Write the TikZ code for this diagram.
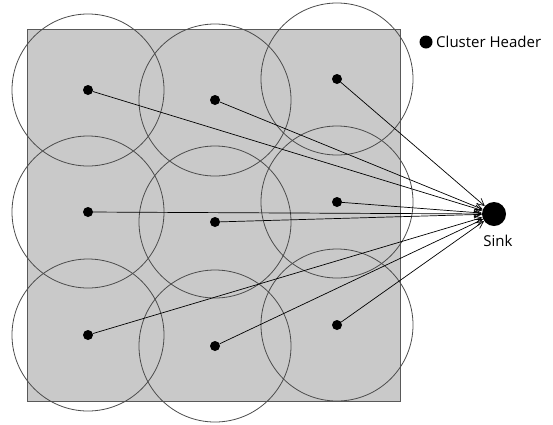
\documentclass[tikz,border=0pt]{standalone}
\usepackage{fontspec}
\setmainfont{Open Sans}
\usetikzlibrary{arrows.meta, positioning}

\begin{document}
\begin{tikzpicture}[x=1pt, y=-1pt,
    head/.style={circle, fill=black, inner sep=0pt, minimum size=10pt},
    cover/.style={draw=black!70, line width=0.8pt},
    link/.style={-{Straight Barb[length=7pt, width=7pt]}, line width=0.7pt},
    tag/.style={font=\fontsize{15}{18}\selectfont}]
    \useasboundingbox (0,0) rectangle (553,424);
    \filldraw[fill=black!21, draw=black!65, line width=0.8pt] (27,29) rectangle (400,401);

    % clusters: cover circle and header
    \foreach \x/\y/\n in {88/90/1, 215/100/2, 337/79/3, 88/212/4, 215/222/5, 337/202/6, 88/335/7, 215/346/8, 337/325/9} {
        \draw[cover] (\x,\y) circle[radius=76];
        \node[head] (h\n) at (\x,\y) {};
    }

    \node[head, minimum size=24pt] (sink) at (494,214) {};
    \node[tag, below=5pt of sink, xshift=4pt] (sinktext) {Sink};

    \foreach \n in {1,...,9} {
        \draw[link] (h\n) -- (sink);
    }

    % legend
    \node[head, minimum size=13pt] (keydot) at (426,42) {};
    \node[tag, right=0pt of keydot] (keytext) {Cluster Header};
\end{tikzpicture}
\end{document}
